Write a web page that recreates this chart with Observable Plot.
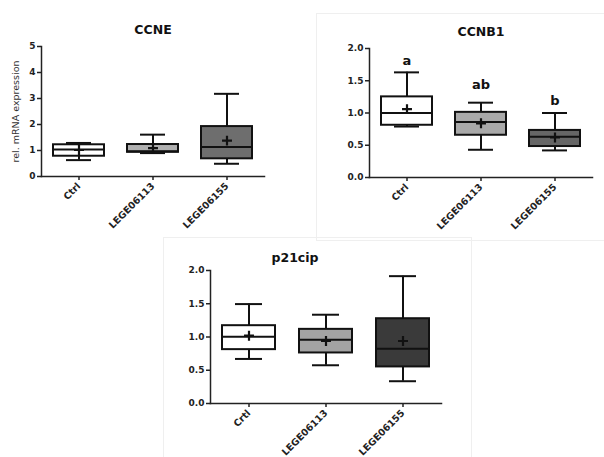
<!DOCTYPE html>
<html><head><meta charset="utf-8">
<script src="https://cdn.jsdelivr.net/npm/d3@7"></script>
<script src="https://cdn.jsdelivr.net/npm/@observablehq/plot@0.6"></script>
<style>
body{margin:0;background:#fff;}
#fig{position:relative;width:604px;height:457px;overflow:hidden;background:#fff;}
.panel{position:absolute;}
.border{position:absolute;border:1px solid #efefef;}
</style></head><body><div id="fig"></div>
<script>
// ---- data ----
const categories = ["Ctrl", "LEGE06113", "LEGE06155"];
const p21Categories = ["Crtl", "LEGE06113", "LEGE06155"];

// CCNE
const ccneMin    = [0.63, 0.90, 0.49];
const ccneQ1     = [0.78, 0.93, 0.68];
const ccneMedian = [1.04, 0.97, 1.13];
const ccneQ3     = [1.22, 1.23, 1.92];
const ccneMax    = [1.29, 1.61, 3.18];
const ccneMean   = [1.02, 1.09, 1.38];

// CCNB1
const ccnb1Min    = [0.79, 0.43, 0.42];
const ccnb1Q1     = [0.81, 0.655, 0.48];
const ccnb1Median = [1.00, 0.86, 0.63];
const ccnb1Q3     = [1.25, 1.01, 0.73];
const ccnb1Max    = [1.63, 1.16, 1.00];
const ccnb1Mean   = [1.06, 0.84, 0.62];
const ccnb1Letters = ["a", "ab", "b"];
const ccnb1LetterY = [1.81, 1.44, 1.19];

// p21cip
const p21Min    = [0.67, 0.575, 0.335];
const p21Q1     = [0.81, 0.76, 0.55];
const p21Median = [1.005, 0.96, 0.825];
const p21Q3     = [1.17, 1.115, 1.275];
const p21Max    = [1.495, 1.335, 1.915];
const p21Mean   = [1.02, 0.94, 0.94];

const ticks5 = [0, 1, 2, 3, 4, 5];
const ticks2 = [0, 0.5, 1.0, 1.5, 2.0];

// ---- styles ----
const ccneFills = ["#ffffff", "#b0b0b0", "#6e6e6e"];
const ccnb1Fills = ["#ffffff", "#a9a9a9", "#666666"];
const p21Fills = ["#ffffff", "#a3a3a3", "#3a3a3a"];

function rowsOf(cats, mn, q1, md, q3, mx, mean) {
  return cats.map((c, i) => ({cat: c, min: mn[i], q1: q1[i], median: md[i], q3: q3[i], max: mx[i], mean: mean[i]}));
}

function panel(o) {
  const ink = "#111";
  const marks = [
    Plot.ruleX(o.rows, {x: "cat", y1: "min", y2: "q1", stroke: ink, strokeWidth: 2}),
    Plot.ruleX(o.rows, {x: "cat", y1: "q3", y2: "max", stroke: ink, strokeWidth: 2}),
    Plot.tickY(o.rows, {x: "cat", y: "min", stroke: ink, strokeWidth: 2, insetLeft: 13, insetRight: 13}),
    Plot.tickY(o.rows, {x: "cat", y: "max", stroke: ink, strokeWidth: 2, insetLeft: 13, insetRight: 13}),
    Plot.barY(o.rows, {x: "cat", y1: "q1", y2: "q3", fill: "cat", stroke: ink, strokeWidth: 2}),
    Plot.tickY(o.rows, {x: "cat", y: "median", stroke: ink, strokeWidth: 2}),
    Plot.dot(o.rows, {x: "cat", y: "mean", symbol: "plus", r: 3.3, stroke: ink, strokeWidth: 2.2}),
    Plot.axisY({ticks: o.yTicks, tickFormat: o.yFormat, tickSize: 4, tickPadding: 2, strokeWidth: 1.5, stroke: "#222", fill: "#222", label: null}),
    Plot.axisX({tickRotate: -45, tickSize: 4, tickPadding: 4, fontSize: 9.5, strokeWidth: 1.5, stroke: "#222", fill: "#222", label: null}),
    Plot.frame({anchor: "left", stroke: "#222", strokeWidth: 1.5}),
    Plot.frame({anchor: "bottom", stroke: "#222", strokeWidth: 1.5}),
    Plot.text([o.title], {text: d => d, frameAnchor: "top", dx: o.titleDx, dy: o.titleDy, lineAnchor: "bottom", fontSize: 12.5, fontWeight: "bold", fill: "#111"})
  ];
  if (o.yLabel) {
    marks.push(Plot.text([o.yLabel], {text: d => d, frameAnchor: "left", textAnchor: "middle", rotate: -90, dx: -26, fontSize: 9.5, fontWeight: "normal", fill: "#333"}));
  }
  if (o.letters) {
    marks.push(Plot.text(o.letters, {x: "cat", y: "y", text: "t", fontSize: 13, fontWeight: "bold", fill: "#111"}));
  }
  return Plot.plot({
    width: o.width, height: o.height,
    marginLeft: o.m[0], marginRight: o.m[1], marginTop: o.m[2], marginBottom: o.m[3],
    style: {fontFamily: "DejaVu Sans", fontSize: "9px", fontWeight: "bold", background: "transparent", overflow: "visible"},
    x: {domain: o.cats, paddingInner: 0.31, paddingOuter: 0.155},
    y: {domain: o.yDomain},
    color: {domain: o.cats, range: o.fills},
    marks
  });
}

const fig = document.getElementById("fig");
function place(el, left, top) {
  const d = document.createElement("div");
  d.className = "panel";
  d.style.left = left + "px";
  d.style.top = top + "px";
  d.appendChild(el);
  fig.appendChild(d);
}
function border(l, t, w, h) {
  const d = document.createElement("div");
  d.className = "border";
  Object.assign(d.style, {left: l + "px", top: t + "px", width: w + "px", height: h + "px"});
  fig.appendChild(d);
}
border(316, 13, 300, 226);
border(163, 237, 307, 230);

place(panel({
  title: "CCNE", cats: categories,
  rows: rowsOf(categories, ccneMin, ccneQ1, ccneMedian, ccneQ3, ccneMax, ccneMean),
  yDomain: [0, 5], yTicks: ticks5, yFormat: d3.format("d"), fills: ccneFills,
  width: 300, height: 240, m: [41, 36, 46, 64], titleDx: 0, titleDy: -13,
  yLabel: "rel. mRNA expression"
}), 0, 0);

place(panel({
  title: "CCNB1", cats: categories,
  rows: rowsOf(categories, ccnb1Min, ccnb1Q1, ccnb1Median, ccnb1Q3, ccnb1Max, ccnb1Mean),
  yDomain: [0, 2], yTicks: ticks2, yFormat: d3.format(".1f"), fills: ccnb1Fills,
  width: 288, height: 240, m: [53, 12, 48, 63], titleDx: 0, titleDy: -13,
  letters: categories.map((c, i) => ({cat: c, t: ccnb1Letters[i], y: ccnb1LetterY[i]}))
}), 316, 0);

place(panel({
  title: "p21cip", cats: p21Categories,
  rows: rowsOf(p21Categories, p21Min, p21Q1, p21Median, p21Q3, p21Max, p21Mean),
  yDomain: [0, 2], yTicks: ticks2, yFormat: d3.format(".1f"), fills: p21Fills,
  width: 307, height: 220, m: [47, 29, 33, 54], titleDx: -31, titleDy: -9
}), 163, 237);
</script></body></html>
